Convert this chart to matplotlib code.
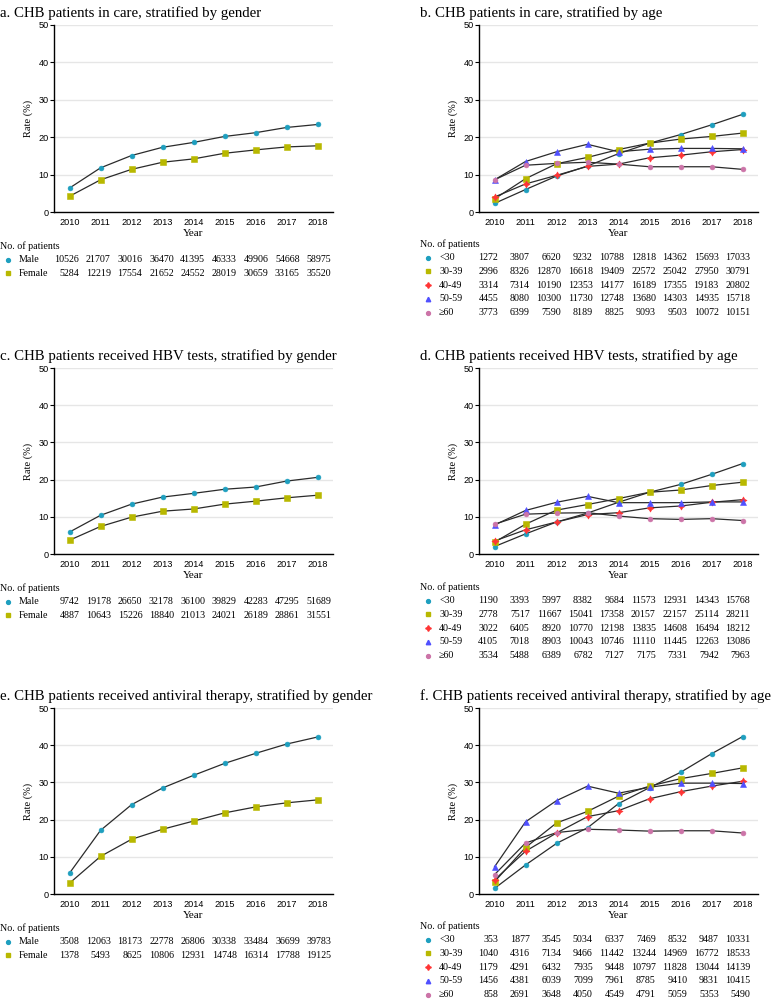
import matplotlib
matplotlib.use('Agg')
import matplotlib.pyplot as plt
from matplotlib.lines import Line2D

years = [2010, 2011, 2012, 2013, 2014, 2015, 2016, 2017, 2018]
gender_labels = ['Male', 'Female']
age_labels = ['<30', '30-39', '40-49', '50-59', '\u226560']

# a. in care, by gender (rate %)
care_male = [6.4, 11.8, 15.1, 17.3, 18.6, 20.2, 21.2, 22.6, 23.4]
care_female = [4.2, 8.6, 11.4, 13.3, 14.2, 15.7, 16.6, 17.4, 17.7]
care_male_n = [10526, 21707, 30016, 36470, 41395, 46333, 49906, 54668, 58975]
care_female_n = [5284, 12219, 17554, 21652, 24552, 28019, 30659, 33165, 35520]

# b. in care, by age
care_lt30 = [2.3, 6.0, 9.6, 12.3, 15.6, 18.4, 20.7, 23.3, 26.1]
care_30s = [3.5, 8.9, 12.9, 14.6, 16.7, 18.4, 19.5, 20.2, 21.1]
care_40s = [4.0, 7.5, 9.8, 12.2, 12.8, 14.5, 15.2, 16.1, 16.7]
care_50s = [8.6, 13.5, 16.1, 18.1, 16.1, 16.8, 17.0, 17.0, 16.9]
care_60p = [8.6, 12.5, 13.0, 13.3, 12.8, 12.1, 12.1, 12.1, 11.4]
care_lt30_n = [1272, 3807, 6620, 9232, 10788, 12818, 14362, 15693, 17033]
care_30s_n = [2996, 8326, 12870, 16618, 19409, 22572, 25042, 27950, 30791]
care_40s_n = [3314, 7314, 10190, 12353, 14177, 16189, 17355, 19183, 20802]
care_50s_n = [4455, 8080, 10300, 11730, 12748, 13680, 14303, 14935, 15718]
care_60p_n = [3773, 6399, 7590, 8189, 8825, 9093, 9503, 10072, 10151]

# c. HBV tests, by gender
test_male = [5.9, 10.4, 13.4, 15.3, 16.3, 17.4, 18.0, 19.6, 20.6]
test_female = [3.7, 7.4, 9.9, 11.5, 12.1, 13.4, 14.2, 15.1, 15.8]
test_male_n = [9742, 19178, 26650, 32178, 36100, 39829, 42283, 47295, 51689]
test_female_n = [4887, 10643, 15226, 18840, 21013, 24021, 26189, 28861, 31551]

# d. HBV tests, by age
test_lt30 = [2.0, 5.4, 8.6, 11.0, 13.9, 16.6, 18.7, 21.4, 24.3]
test_30s = [3.2, 8.0, 11.8, 13.3, 14.9, 16.6, 17.2, 18.4, 19.3]
test_40s = [3.5, 6.5, 8.6, 10.6, 11.1, 12.4, 12.9, 13.9, 14.6]
test_50s = [7.8, 11.7, 13.9, 15.5, 13.8, 13.8, 13.8, 14.0, 14.0]
test_60p = [8.0, 10.7, 11.0, 11.1, 10.2, 9.5, 9.3, 9.5, 9.0]
test_lt30_n = [1190, 3393, 5997, 8382, 9684, 11573, 12931, 14343, 15768]
test_30s_n = [2778, 7517, 11667, 15041, 17358, 20157, 22157, 25114, 28211]
test_40s_n = [3022, 6405, 8920, 10770, 12198, 13835, 14608, 16494, 18212]
test_50s_n = [4105, 7018, 8903, 10043, 10746, 11110, 11445, 12263, 13086]
test_60p_n = [3534, 5488, 6389, 6782, 7127, 7175, 7331, 7942, 7963]

# e. antiviral therapy, by gender
av_male = [5.6, 17.1, 24.0, 28.5, 31.9, 35.1, 37.8, 40.3, 42.2]
av_female = [2.9, 10.1, 14.7, 17.4, 19.6, 21.8, 23.4, 24.5, 25.3]
av_male_n = [3508, 12063, 18173, 22778, 26806, 30338, 33484, 36699, 39783]
av_female_n = [1378, 5493, 8625, 10806, 12931, 14748, 16314, 17788, 19125]

# f. antiviral therapy, by age
av_lt30 = [1.5, 7.8, 13.6, 17.8, 24.3, 28.6, 32.7, 37.7, 42.3]
av_30s = [3.3, 12.5, 19.1, 22.2, 26.3, 29.0, 31.0, 32.4, 33.9]
av_40s = [3.8, 11.5, 16.4, 20.8, 22.4, 25.6, 27.5, 29.0, 30.3]
av_50s = [7.3, 19.4, 25.1, 29.0, 27.1, 28.7, 29.8, 29.8, 29.7]
av_60p = [5.2, 13.7, 16.5, 17.4, 17.2, 16.9, 17.0, 17.0, 16.4]
av_lt30_n = [353, 1877, 3545, 5034, 6337, 7469, 8532, 9487, 10331]
av_30s_n = [1040, 4316, 7134, 9466, 11442, 13244, 14969, 16772, 18533]
av_40s_n = [1179, 4291, 6432, 7935, 9448, 10797, 11828, 13044, 14139]
av_50s_n = [1456, 4381, 6039, 7099, 7961, 8785, 9410, 9831, 10415]
av_60p_n = [858, 2691, 3648, 4050, 4549, 4791, 5059, 5353, 5490]

W, H = 777, 999
SERIF = 'Liberation Serif'
SANS = 'Liberation Sans'

# marker styles: teal, yellow, red, blue, pink
TEAL = dict(marker='o', color='#1E9FBF', ms=3.5)
YELLOW = dict(marker='s', color='#B8B800', ms=4.0)
RED = dict(marker=(4, 1, 0), color='#FF3535', ms=5.2)
BLUE = dict(marker='^', color='#5050FF', ms=4.0)
PINK = dict(marker='o', color='#CC74A8', ms=3.5)
gender_styles = [TEAL, YELLOW]
age_styles = [TEAL, YELLOW, RED, BLUE, PINK]

fig = plt.figure(figsize=(W / 100, H / 100), dpi=100)


def px_axes(left, top, right, bottom):
    return fig.add_axes([left / W, 1 - bottom / H, (right - left) / W, (bottom - top) / H])


def ftext(x, y, s, **kw):
    fig.text(x / W, 1 - y / H, s, **kw)


def draw_panel(box, title, title_x, series, styles):
    ax = px_axes(*box)
    for vals, st in zip(series, styles):
        ax.plot(years, vals, color='#2b2b2b', lw=0.9, zorder=2)
        ax.plot(years, vals, linestyle='none', marker=st['marker'], ms=st['ms'],
                mfc=st['color'], mec=st['color'], mew=0.4, zorder=3)
    ax.set_xlim(2009.5, 2018.5)
    ax.set_ylim(0, 50)
    ax.set_yticks([0, 10, 20, 30, 40, 50])
    ax.set_xticks(years)
    ax.grid(axis='y', color='#e6e6e6', lw=1.0, zorder=0)
    ax.set_axisbelow(True)
    for s in ['top', 'right']:
        ax.spines[s].set_visible(False)
    for s in ['left', 'bottom']:
        ax.spines[s].set_linewidth(1.0)
    ax.tick_params(axis='y', length=3, width=0.8, pad=1, labelsize=6.6)
    ax.tick_params(axis='x', length=0, pad=4, labelsize=6.6)
    for lab in ax.get_xticklabels() + ax.get_yticklabels():
        lab.set_fontfamily(SANS)
    ax.set_xlabel('Year', fontfamily=SERIF, fontsize=8, labelpad=2)
    ax.set_ylabel('Rate (%)', fontfamily=SERIF, fontsize=7.5, labelpad=4)
    ftext(title_x, box[1] - 12, title, fontfamily=SERIF, fontsize=10.7, va='center', ha='left')
    return ax


def draw_table(y0, x0, marker_x, label_x, first_num_right, labels, counts, styles, dy):
    ftext(x0, y0, 'No. of patients', fontfamily=SERIF, fontsize=7.2, va='center')
    for i, (lab, row, st) in enumerate(zip(labels, counts, styles)):
        y = y0 + dy * (i + 1)
        fig.add_artist(Line2D([marker_x / W], [1 - y / H], transform=fig.transFigure,
                              marker=st['marker'], ms=st['ms'] * 0.8, mfc=st['color'],
                              mec=st['color'], linestyle='none'))
        ftext(label_x, y, lab, fontfamily=SERIF, fontsize=7.2, va='center')
        for j, n in enumerate(row):
            ftext(first_num_right + j * 31.5, y, str(n), fontfamily=SERIF,
                  fontsize=7.2, va='center', ha='right')


LBOX = (54, 333)
RBOX = (479, 758)

draw_panel((LBOX[0], 25, LBOX[1], 212), 'a. CHB patients in care, stratified by gender', 0,
           [care_male, care_female], gender_styles)
draw_table(246, 0, 8, 19, 79.3, gender_labels, [care_male_n, care_female_n], gender_styles, 13.7)

draw_panel((RBOX[0], 25, RBOX[1], 212), 'b. CHB patients in care, stratified by age', 420,
           [care_lt30, care_30s, care_40s, care_50s, care_60p], age_styles)
draw_table(244, 420, 428, 439, 498.3, age_labels,
           [care_lt30_n, care_30s_n, care_40s_n, care_50s_n, care_60p_n], age_styles, 13.7)

draw_panel((LBOX[0], 368, LBOX[1], 554), 'c. CHB patients received HBV tests, stratified by gender', 0,
           [test_male, test_female], gender_styles)
draw_table(588, 0, 8, 19, 79.3, gender_labels, [test_male_n, test_female_n], gender_styles, 13.7)

draw_panel((RBOX[0], 368, RBOX[1], 554), 'd. CHB patients received HBV tests, stratified by age', 420,
           [test_lt30, test_30s, test_40s, test_50s, test_60p], age_styles)
draw_table(587, 420, 428, 439, 498.3, age_labels,
           [test_lt30_n, test_30s_n, test_40s_n, test_50s_n, test_60p_n], age_styles, 13.7)

draw_panel((LBOX[0], 708, LBOX[1], 894), 'e. CHB patients received antiviral therapy, stratified by gender', 0,
           [av_male, av_female], gender_styles)
draw_table(928, 0, 8, 19, 79.3, gender_labels, [av_male_n, av_female_n], gender_styles, 13.7)

draw_panel((RBOX[0], 708, RBOX[1], 894), 'f. CHB patients received antiviral therapy, stratified by age', 420,
           [av_lt30, av_30s, av_40s, av_50s, av_60p], age_styles)
draw_table(926, 420, 428, 439, 498.3, age_labels,
           [av_lt30_n, av_30s_n, av_40s_n, av_50s_n, av_60p_n], age_styles, 13.7)

fig.savefig('out.png', dpi=100)
